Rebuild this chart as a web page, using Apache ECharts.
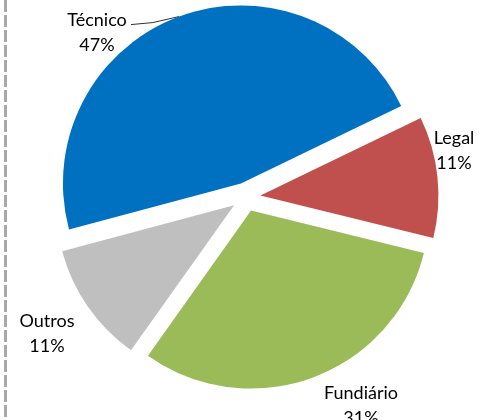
<!DOCTYPE html>
<html>
<head>
<meta charset="utf-8">
<script src="https://cdn.jsdelivr.net/npm/echarts@6/dist/echarts.min.js"></script>
<style>
  html, body { margin: 0; padding: 0; background: #ffffff; }
  #chart { width: 479px; height: 420px; }
</style>
</head>
<body>
<div id="chart"></div>
<script>
// Share of each area (percent)
const categories = ['Técnico', 'Legal', 'Fundiário', 'Outros'];
const shares = [47, 11, 31, 11];
const sliceColors = ['#0070C0', '#C0504D', '#9BBB59', '#BFBFBF'];

// Where each label block is centred (px), by category
const labelCentres = [[97, 33], [454, 151], [361, 406], [47, 334]];

const PIE_CENTER = [246, 197];
const PIE_RADIUS = 178;
const START_ANGLE = 195;
const EXPLODE = 14.5;

const chart = echarts.init(document.getElementById('chart'), null, { renderer: 'canvas' });

const common = {
  type: 'pie',
  center: PIE_CENTER,
  radius: PIE_RADIUS,
  startAngle: START_ANGLE,
  clockwise: true,
  avoidLabelOverlap: false,
  emphasis: { disabled: true },
  itemStyle: { borderWidth: 0 }
};

chart.setOption({
  animation: false,
  graphic: [{
    type: 'line',
    shape: { x1: 5.5, y1: 0, x2: 5.5, y2: 420 },
    style: { stroke: '#a8a8a8', lineWidth: 3, lineDash: [12, 3] },
    silent: true
  }],
  series: [
    // exploded slices
    Object.assign({}, common, {
      name: 'slices',
      selectedMode: 'multiple',
      selectedOffset: EXPLODE,
      label: { show: false },
      labelLine: { show: false },
      data: categories.map(function (name, i) {
        return {
          name: name,
          value: shares[i],
          selected: true,
          itemStyle: { color: sliceColors[i] },
          select: { itemStyle: { color: sliceColors[i] } }
        };
      })
    }),
    // category labels and leader line
    Object.assign({}, common, {
      name: 'labels',
      silent: true,
      label: {
        show: true,
        position: 'outside',
        formatter: '{b}\n{c}%',
        fontFamily: 'Lato',
        fontSize: 18,
        lineHeight: 25,
        width: 120,
        overflow: 'none',
        color: '#000000',
        align: 'center'
      },
      labelLine: { show: false },
      labelLayout: function (p) {
        const idx = categories.indexOf(String(p.text).split('\n')[0]);
        const c = labelCentres[idx];
        const out = { x: c[0], y: c[1], align: 'center', verticalAlign: 'middle' };
        if (idx === 0 && p.labelLinePoints) {
          // start on the exploded arc: push the arc point out along its radius
          const a = p.labelLinePoints[0];
          const vx = a[0] - PIE_CENTER[0], vy = a[1] - PIE_CENTER[1];
          const len = Math.sqrt(vx * vx + vy * vy);
          const ax = a[0] + vx / len * EXPLODE, ay = a[1] + vy / len * EXPLODE;
          out.labelLinePoints = [
            [ax, ay],
            [ax - 26, ay + 6],
            [c[0] + 34, ay + 8]
          ];
        }
        return out;
      },
      data: categories.map(function (name, i) {
        return {
          name: name,
          value: shares[i],
          itemStyle: { color: 'rgba(0,0,0,0)' },
          labelLine: { show: i === 0, lineStyle: { color: '#303030', width: 1 } }
        };
      })
    })
  ]
});
</script>
</body>
</html>
